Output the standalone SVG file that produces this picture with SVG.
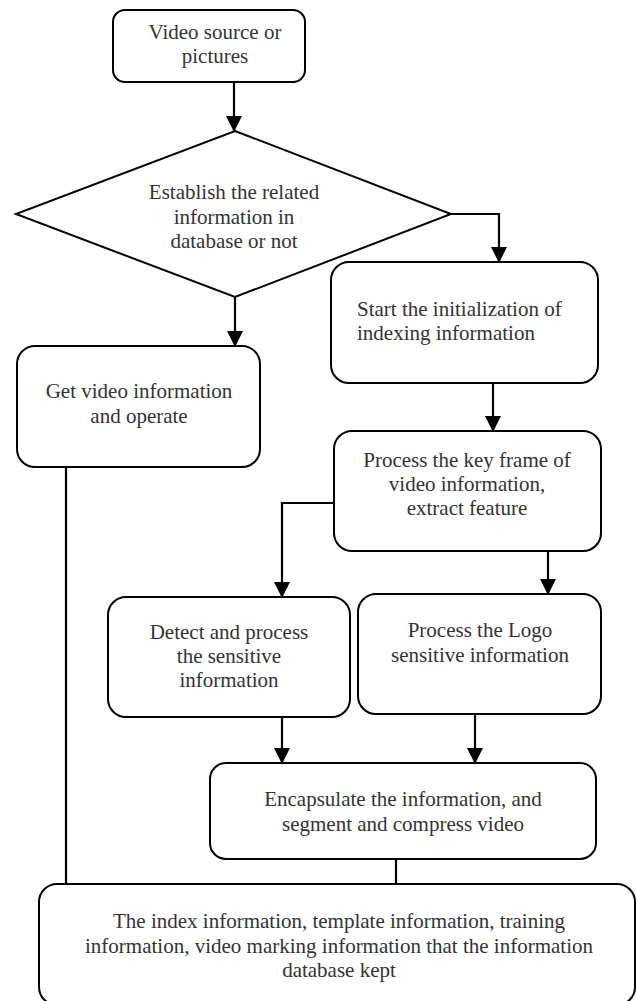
<svg xmlns="http://www.w3.org/2000/svg" width="637" height="1001" viewBox="0 0 637 1001">
<defs>
<marker id="arrow" markerUnits="userSpaceOnUse" markerWidth="16" markerHeight="16" viewBox="0 0 16 16" refX="8" refY="16" orient="auto-start-reverse">
<path d="M0,0 L16,0 L8,16 Z" fill="#000"/>
</marker>
<style>
.box{fill:#fff;stroke:#000;stroke-width:2}
.t{font-family:"Liberation Serif","Times New Roman",serif;font-size:21px;fill:#333;text-anchor:middle}
.ts{text-anchor:start}
.c{fill:none;stroke:#000;stroke-width:2.2}
.a{marker-end:url(#arrowV)}
</style>
<marker id="arrowV" markerUnits="userSpaceOnUse" markerWidth="16" markerHeight="16" viewBox="0 0 16 16" refX="8" refY="15" orient="0">
<path d="M0,0 L16,0 L8,16 Z" fill="#000"/>
</marker>
</defs>
<rect width="637" height="1001" fill="#fff"/>
<g id="connectors">
<path class="c a" d="M234,82 V131"/>
<path class="c a" d="M451,214 H499 V262"/>
<path class="c a" d="M235,297 V346"/>
<path class="c a" d="M493,383 V431"/>
<path class="c a" d="M334,503 H282 V597"/>
<path class="c a" d="M548,551 V594"/>
<path class="c a" d="M282,717 V763"/>
<path class="c a" d="M475,714 V763"/>
<path class="c" d="M396,859 V884"/>
<path class="c" d="M66,467 V884 H73"/>
</g>
<g id="n1">
<rect class="box" x="113" y="10" width="192" height="72" rx="12"/>
<text class="t" x="215" y="39">Video source or</text>
<text class="t" x="215" y="63">pictures</text>
</g>
<g id="n2">
<polygon class="box" points="235,131 451,214 235,297 16,214"/>
<text class="t" x="234" y="199">Establish the related</text>
<text class="t" x="234" y="224">information in</text>
<text class="t" x="234" y="248">database or not</text>
</g>
<g id="n3">
<rect class="box" x="331" y="262" width="267" height="121" rx="18"/>
<text class="t ts" x="357" y="316">Start the initialization of</text>
<text class="t ts" x="357" y="340">indexing information</text>
</g>
<g id="n4">
<rect class="box" x="17" y="346" width="243" height="121" rx="18"/>
<text class="t" x="139" y="398">Get video information</text>
<text class="t" x="139" y="423">and operate</text>
</g>
<g id="n5">
<rect class="box" x="334" y="431" width="267" height="120" rx="18"/>
<text class="t" x="467" y="467">Process the key frame of</text>
<text class="t" x="467" y="491">video information,</text>
<text class="t" x="467" y="515">extract feature</text>
</g>
<g id="n6">
<rect class="box" x="108" y="597" width="242" height="120" rx="18"/>
<text class="t" x="229" y="639">Detect and process</text>
<text class="t" x="229" y="663">the sensitive</text>
<text class="t" x="229" y="687">information</text>
</g>
<g id="n7">
<rect class="box" x="358" y="594" width="243" height="120" rx="18"/>
<text class="t" x="480" y="637">Process the Logo</text>
<text class="t" x="480" y="662">sensitive information</text>
</g>
<g id="n8">
<rect class="box" x="210" y="763" width="386" height="96" rx="16"/>
<text class="t" x="403" y="806">Encapsulate the information, and</text>
<text class="t" x="403" y="831">segment and compress video</text>
</g>
<g id="n9">
<rect class="box" x="39" y="884" width="596" height="121" rx="18"/>
<text class="t" x="339" y="928">The index information, template information, training</text>
<text class="t" x="339" y="953">information, video marking information that the information</text>
<text class="t" x="339" y="977">database kept</text>
</g>
</svg>
